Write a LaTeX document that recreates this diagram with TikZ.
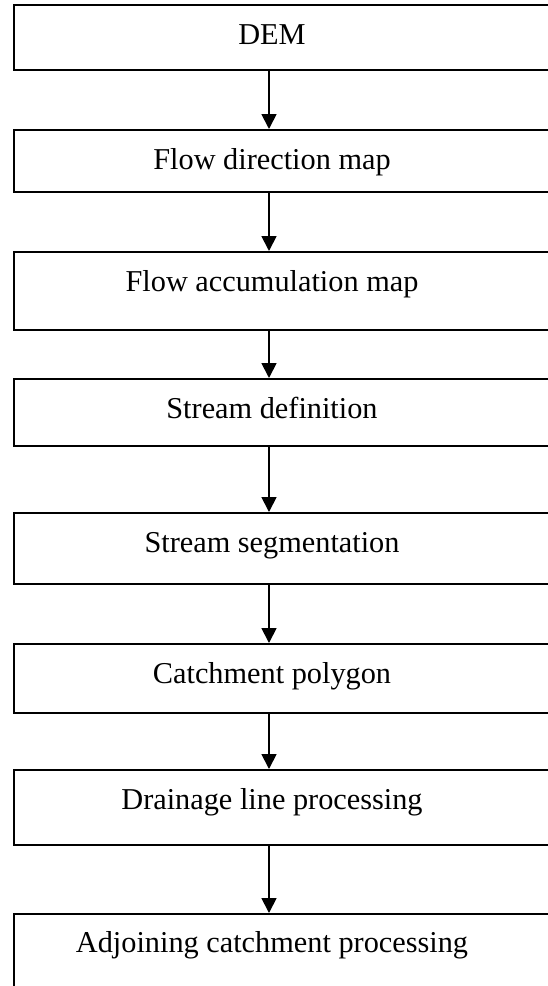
\documentclass[tikz,border=0pt]{standalone}
\usepackage{fontspec}
\setmainfont{Liberation Serif}
\usetikzlibrary{arrows.meta}
\begin{document}
\begin{tikzpicture}[x=1pt,y=-1pt,
  stagebox/.style={draw,line width=1.8pt,rectangle,inner sep=0pt,anchor=north west,minimum width=550pt},
  stagetext/.style={anchor=base,inner sep=0pt,font=\fontsize{30.3}{36}\selectfont},
  flow/.style={line width=1.8pt,-{Triangle[width=15pt,length=15pt]}}]
\useasboundingbox (0,0) rectangle (548,986);
\clip (0,0) rectangle (548,986);
% boxes: top edge and height
\foreach \n/\t/\h in {1/4/65,2/129/62,3/251/78,4/378/67,5/512/71,6/643/69,7/769/75,8/913/90}{
  \node[stagebox,minimum height=\h pt] (b\n) at (13,\t) {};
}
% labels, baseline 40 below each box top
\node[stagetext] (t1) at (272,44) {DEM};
\node[stagetext] (t2) at (272,169) {Flow direction map};
\node[stagetext] (t3) at (272,291) {Flow accumulation map};
\node[stagetext] (t4) at (272,418) {Stream definition};
\node[stagetext] (t5) at (272,552) {Stream segmentation};
\node[stagetext] (t6) at (272,683) {Catchment polygon};
\node[stagetext] (t7) at (272,809) {Drainage line processing};
\node[stagetext] (t8) at (272,952) {Adjoining catchment processing};
% connectors
\coordinate (ax) at (269,0);
\foreach \a/\b in {1/2,2/3,3/4,4/5,5/6,6/7,7/8}{
  \draw[flow] (b\a.south -| ax) -- (b\b.north -| ax);
}
\end{tikzpicture}
\end{document}
